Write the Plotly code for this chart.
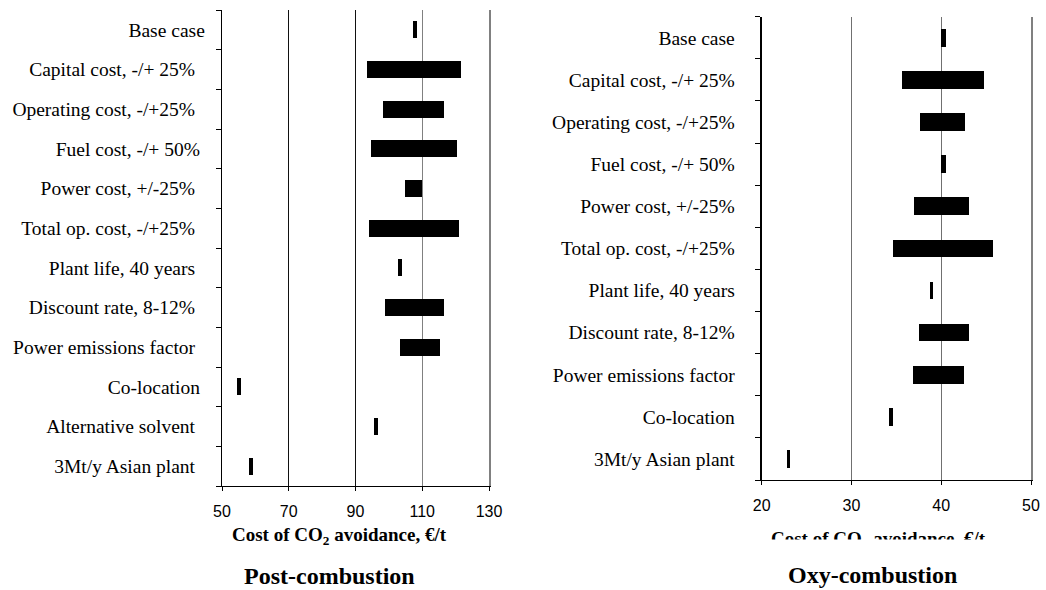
import plotly.graph_objects as go

# ---- data ----
post_labels = ["Base case", "Capital cost, -/+ 25%", "Operating cost, -/+25%", "Fuel cost, -/+ 50%",
               "Power cost, +/-25%", "Total op. cost, -/+25%", "Plant life, 40 years",
               "Discount rate, 8-12%", "Power emissions factor", "Co-location",
               "Alternative solvent", "3Mt/y Asian plant"]
post_low = [107.2, 93.3, 98.3, 94.5, 104.9, 93.9, 102.8, 98.9, 103.3, 54.6, 95.5, 58.0]
post_high = [108.3, 121.5, 116.5, 120.3, 109.9, 120.9, 103.8, 116.5, 115.4, 55.8, 96.7, 59.2]
post_pad = [0, 2, 2, 1, 2, 2, 2, 2, 2, 1, 2, 2]

oxy_labels = ["Base case", "Capital cost, -/+ 25%", "Operating cost, -/+25%", "Fuel cost, -/+ 50%",
              "Power cost, +/-25%", "Total op. cost, -/+25%", "Plant life, 40 years",
              "Discount rate, 8-12%", "Power emissions factor", "Co-location",
              "3Mt/y Asian plant"]
oxy_low = [39.95, 35.65, 37.65, 39.95, 37.0, 34.6, 38.7, 37.5, 36.9, 34.2, 22.8]
oxy_high = [40.5, 44.75, 42.7, 40.5, 43.1, 45.8, 39.1, 43.1, 42.5, 34.6, 23.2]
oxy_pad = [2, 2, 2, 2, 2, 2, 2, 2, 2, 2, 2]

post_ticks = [50, 70, 90, 110, 130]
post_dark_grid = [70, 90]
post_grey_grid = [110]
oxy_ticks = [20, 30, 40, 50]

W, H = 1046, 590
serif = "Liberation Serif"
sans = "Liberation Sans"


def px(x):
    return x / W


def py(y):
    return 1 - y / H


fig = go.Figure()
fig.add_trace(go.Bar(
    y=post_labels, x=[h - l for l, h in zip(post_low, post_high)], base=post_low,
    orientation="h", marker=dict(color="black", line=dict(width=0)), width=0.43,
    xaxis="x", yaxis="y", showlegend=False))
fig.add_trace(go.Bar(
    y=oxy_labels, x=[h - l for l, h in zip(oxy_low, oxy_high)], base=oxy_low,
    orientation="h", marker=dict(color="black", line=dict(width=0)), width=0.42,
    xaxis="x2", yaxis="y2", showlegend=False))
# invisible helper traces for the overlay axes (grey gridline, grey right-hand borders)
fig.add_trace(go.Scatter(x=[post_ticks[0]], y=[post_labels[0]], mode="markers",
                         marker=dict(opacity=0), xaxis="x3", yaxis="y3",
                         showlegend=False, hoverinfo="skip"))
fig.add_trace(go.Scatter(x=[oxy_ticks[0]], y=[oxy_labels[0]], mode="markers",
                         marker=dict(opacity=0), xaxis="x2", yaxis="y4",
                         showlegend=False, hoverinfo="skip"))

post_range = [post_ticks[0], post_ticks[-1]]
oxy_range = [oxy_ticks[0], oxy_ticks[-1]]


def xax(domain, ticks, rng, anchor, grid, gridcolor):
    return dict(domain=domain, range=rng, tickvals=ticks,
                ticks="outside", ticklen=4, tickcolor="black",
                showline=True, linecolor="black", linewidth=1.3,
                showgrid=False, zeroline=False,
                tickfont=dict(family=sans, size=16, color="black"),
                ticklabelstandoff=6, anchor=anchor, automargin=False, fixedrange=True,
                minor=dict(tickvals=grid, showgrid=True, gridcolor=gridcolor, gridwidth=1.3,
                           ticks=""))


def yax(domain, labels, pads, anchor):
    return dict(domain=domain, type="category", categoryorder="array", categoryarray=labels,
                tickvals=labels, ticktext=[lab + "\u00a0" * p for lab, p in zip(labels, pads)],
                autorange="reversed", ticks="outside", tickson="boundaries", ticklen=5,
                tickcolor="black", showline=True, linecolor="black", linewidth=1.3,
                showgrid=False, zeroline=False,
                tickfont=dict(family=serif, size=19.5, color="black"),
                ticklabelstandoff=12, anchor=anchor, automargin=False, fixedrange=True)


def border(over, anchor):
    return dict(overlaying=over, side="right", anchor=anchor, showline=True,
                linecolor="#808080", linewidth=1.5, showticklabels=False, ticks="",
                showgrid=False, zeroline=False, type="category", fixedrange=True)


fig.update_layout(
    width=W, height=H, margin=dict(l=0, r=0, t=0, b=0),
    paper_bgcolor="white", plot_bgcolor="white", bargap=0,
    xaxis=xax([px(222), px(489)], post_ticks, post_range, "y", post_dark_grid, "#111111"),
    yaxis=yax([py(486), py(10)], post_labels, post_pad, "x"),
    xaxis2=xax([px(761.7), px(1031)], oxy_ticks, oxy_range, "y2", oxy_ticks[1:-1], "#707070"),
    yaxis2=yax([py(480), py(16.7)], oxy_labels, oxy_pad, "x2"),
    xaxis3=dict(overlaying="x", range=post_range, tickvals=post_grey_grid,
                showticklabels=False, ticks="", showline=False, zeroline=False,
                showgrid=True, gridcolor="#808080", gridwidth=1.5, anchor="y",
                fixedrange=True),
    yaxis3=border("y", "x"),
    yaxis4=border("y2", "x2"),
)

ttl = "<b>Cost of CO<sub>2</sub> avoidance, €/t</b>"
fig.add_annotation(text=ttl, x=px(339), y=py(536), xref="paper", yref="paper",
                   showarrow=False, xanchor="center", yanchor="middle",
                   font=dict(family=serif, size=19, color="black"))
fig.add_annotation(text=ttl, x=px(878), y=py(540), xref="paper", yref="paper",
                   showarrow=False, xanchor="center", yanchor="middle",
                   font=dict(family=serif, size=19, color="black"))
# cover the lower part of the right-hand axis title (clipped in the original)
fig.add_annotation(text="\u00a0", x=px(878), y=py(538.5), xref="paper", yref="paper",
                   showarrow=False, xanchor="center", yanchor="top", width=280, height=16,
                   bgcolor="white", borderpad=0, font=dict(size=10))
fig.add_annotation(text="<b>Post-combustion</b>", x=px(329), y=py(575.5),
                   xref="paper", yref="paper", showarrow=False, xanchor="center", yanchor="middle",
                   font=dict(family=serif, size=24, color="black"))
fig.add_annotation(text="<b>Oxy-combustion</b>", x=px(872), y=py(575),
                   xref="paper", yref="paper", showarrow=False, xanchor="center", yanchor="middle",
                   font=dict(family=serif, size=24, color="black"))

fig.write_html("out.html", config={"displayModeBar": False, "staticPlot": True},
               post_script="document.body.style.margin='0';document.body.style.overflow='hidden';")
